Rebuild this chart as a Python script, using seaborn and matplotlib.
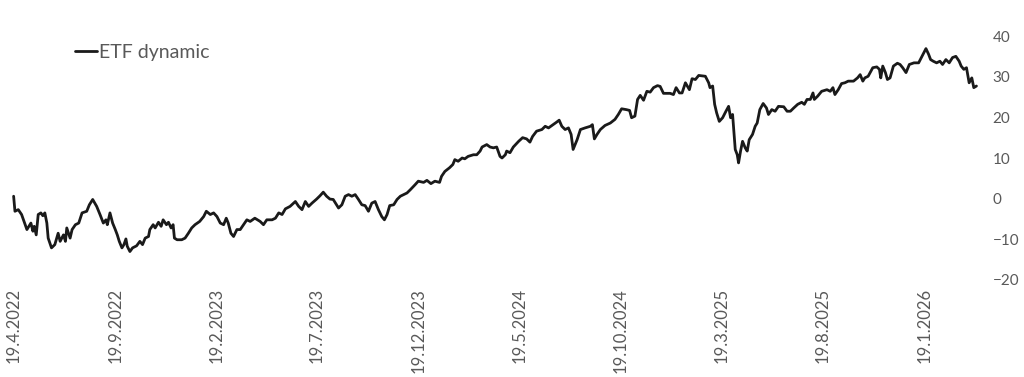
import numpy as np
import pandas as pd
import matplotlib
matplotlib.use("Agg")
import matplotlib.pyplot as plt
import seaborn as sns

# ---- data ----
start_date = "2022-04-19"
day_offset = [
    0, 2, 7, 12, 20, 26, 29, 31, 34, 37, 41, 44, 47, 50, 52, 57, 62, 67, 70, 75,
    78, 80, 85, 88, 93, 98, 103, 110, 114, 119, 125, 130, 135, 139, 141, 145, 149, 153, 156, 159,
    163, 166, 169, 171, 175, 179, 185, 190, 194, 198, 203, 205, 210, 213, 218, 222, 225, 230, 233, 237,
    240, 242, 246, 253, 258, 263, 268, 273, 280, 286, 290, 296, 301, 306, 311, 316, 320, 323, 327, 331,
    336, 341, 346, 351, 356, 363, 371, 376, 381, 389, 394, 399, 404, 409, 416, 424, 429, 434, 439, 444,
    449, 456, 461, 466, 471, 476, 481, 489, 494, 499, 504, 509, 514, 519, 524, 529, 534, 539, 544, 549,
    554, 558, 562, 566, 572, 577, 582, 587, 592, 597, 604, 609, 617, 622, 628, 634, 641, 644, 649, 656,
    661, 664, 669, 675, 679, 684, 692, 697, 702, 705, 712, 717, 722, 727, 732, 735, 740, 742, 747, 752,
    760, 766, 772, 777, 781, 787, 795, 800, 805, 812, 817, 821, 825, 830, 835, 839, 842, 844, 848, 853,
    860, 868, 871, 874, 878, 883, 890, 898, 905, 910, 915, 922, 927, 930, 935, 939, 943, 948, 953, 958,
    963, 969, 973, 978, 988, 993, 997, 1002, 1006, 1011, 1017, 1021, 1026, 1031, 1041, 1046, 1048, 1052, 1055, 1058,
    1062, 1067, 1072, 1076, 1079, 1082, 1086, 1089, 1091, 1094, 1097, 1101, 1104, 1107, 1112, 1116, 1119, 1123, 1128, 1133,
    1136, 1141, 1146, 1151, 1159, 1164, 1169, 1174, 1180, 1186, 1190, 1194, 1199, 1203, 1205, 1210, 1216, 1224, 1229, 1233,
    1236, 1241, 1246, 1251, 1256, 1264, 1270, 1274, 1278, 1281, 1286, 1293, 1299, 1303, 1305, 1308, 1312, 1315, 1319, 1324,
    1330, 1334, 1338, 1343, 1348, 1355, 1362, 1367, 1373, 1377, 1380, 1384, 1389, 1394, 1398, 1403, 1408, 1413, 1418, 1423,
    1426, 1430, 1434, 1438, 1442, 1445, 1449,
]
etf_dynamic = [
    0.6, -3.1, -2.7, -3.9, -7.6, -6.0, -8.0, -6.8, -8.9, -3.9, -3.5, -4.2, -3.5, -6.0, -9.7, -12.1, -11.3, -8.5, -10.5, -8.9,
    -10.5, -7.2, -9.7, -7.6, -6.4, -6.0, -3.5, -3.1, -1.5, -0.2, -1.9, -3.9, -6.0, -5.2, -6.4, -3.5, -6.0, -7.6, -8.9, -10.5,
    -12.1, -11.3, -9.9, -11.7, -13.0, -12.1, -11.6, -10.5, -11.3, -9.7, -9.3, -7.6, -6.4, -7.2, -5.8, -6.8, -5.2, -6.4, -5.8, -7.2,
    -6.4, -9.7, -10.1, -10.1, -9.7, -8.5, -7.2, -6.4, -5.6, -4.4, -3.1, -3.9, -3.5, -4.4, -6.0, -6.4, -4.8, -6.0, -8.5, -9.3,
    -7.6, -7.6, -6.4, -5.2, -5.6, -4.8, -5.6, -6.4, -5.2, -5.2, -4.8, -3.5, -3.9, -2.5, -1.9, -0.7, -1.9, -2.7, -0.7, -1.9,
    -1.1, -0.1, 0.7, 1.6, 0.6, -0.1, -0.2, -2.3, -1.5, 0.6, 1.0, 0.6, 1.0, -0.2, -1.5, -1.7, -3.1, -1.1, -0.7, -2.7,
    -4.4, -5.2, -3.9, -1.7, -1.5, -0.2, 0.6, 1.0, 1.4, 2.2, 3.4, 4.3, 4.0, 4.5, 3.7, 4.3, 4.0, 5.5, 6.7, 7.6,
    8.4, 9.6, 9.2, 10.0, 9.8, 10.4, 10.8, 10.8, 11.7, 12.7, 13.3, 12.7, 12.5, 12.7, 10.4, 10.0, 10.8, 11.7, 11.3, 12.7,
    14.1, 15.0, 14.7, 13.9, 15.3, 16.6, 17.0, 17.8, 17.4, 18.2, 18.8, 19.3, 17.8, 17.0, 17.4, 15.8, 12.1, 12.9, 14.5, 17.0,
    17.4, 17.8, 18.2, 14.7, 15.8, 17.0, 18.0, 18.6, 19.5, 20.7, 22.1, 21.9, 21.7, 19.9, 20.3, 24.4, 25.4, 24.2, 26.4, 26.2,
    27.3, 27.8, 27.6, 25.9, 25.9, 25.6, 27.3, 26.0, 26.0, 28.5, 26.8, 29.5, 29.3, 30.3, 30.1, 28.5, 27.3, 27.7, 23.2, 21.1,
    19.0, 19.9, 21.5, 22.7, 19.9, 20.7, 12.1, 10.8, 8.8, 11.7, 14.1, 12.5, 11.7, 14.5, 15.8, 17.8, 18.6, 21.9, 23.4, 22.3,
    20.7, 21.9, 21.5, 22.7, 22.6, 21.5, 21.5, 22.3, 23.2, 23.7, 23.2, 24.4, 24.4, 26.0, 24.4, 25.2, 26.4, 26.8, 26.4, 27.3,
    25.6, 26.8, 28.3, 28.5, 28.9, 28.9, 29.7, 30.5, 28.9, 29.7, 30.1, 32.2, 32.4, 31.8, 29.7, 32.6, 31.0, 29.3, 29.7, 32.6,
    33.3, 33.0, 32.2, 31.0, 33.0, 33.4, 33.4, 35.0, 36.9, 35.5, 34.2, 33.8, 33.4, 33.8, 33.0, 34.2, 33.4, 34.7, 35.0, 33.8,
    32.6, 31.8, 32.2, 28.5, 29.7, 27.3, 27.7,
]
y_ticks = [-20, -10, 0, 10, 20, 30, 40]
series_name = "ETF dynamic"

# ---- build frame ----
dates = pd.Timestamp(start_date) + pd.to_timedelta(day_offset, unit="D")
df = pd.DataFrame({"date": dates, "value": etf_dynamic, "series": series_name})

sns.set_style("white")
plt.rcParams["font.family"] = ["Lato", "DejaVu Sans"]

fig = plt.figure(figsize=(10.24, 3.77), dpi=100)
ax = fig.add_axes([0.005, 0.2573, 0.957, 0.6472])

sns.lineplot(data=df, x="date", y="value", hue="series", palette=["#1a1a1a"],
             linewidth=2.0, ax=ax)

# x axis: every 5 months starting on 19.4.2022
tick_dates = pd.date_range(start_date, periods=10, freq=pd.DateOffset(months=5))
ax.set_xticks(tick_dates)
ax.set_xticklabels([f"{d.day}.{d.month}.{d.year}" for d in tick_dates],
                   rotation=90, color="#595959", fontsize=12)
x0 = pd.Timestamp(start_date)
ax.set_xlim(x0 - pd.Timedelta(days=12.8), x0 + pd.Timedelta(days=1462))

ax.set_ylim(-20, 40)
ax.set_yticks(y_ticks)
ax.yaxis.tick_right()
ax.tick_params(axis="y", labelsize=11, labelcolor="#595959", length=0, pad=5.5)
ax.tick_params(axis="x", length=0, pad=6)

ax.set_xlabel("")
ax.set_ylabel("")
for s in ax.spines.values():
    s.set_visible(False)
ax.grid(False)

leg = ax.legend(loc="center left", bbox_to_anchor=(0.0714, 0.932), frameon=False,
                handlelength=1.15, handletextpad=0.1, fontsize=14,
                borderaxespad=0, borderpad=0)
for t in leg.get_texts():
    t.set_color("#595959")
for h in leg.get_lines():
    h.set_linewidth(2.0)

fig.savefig("out.png", dpi=100)
